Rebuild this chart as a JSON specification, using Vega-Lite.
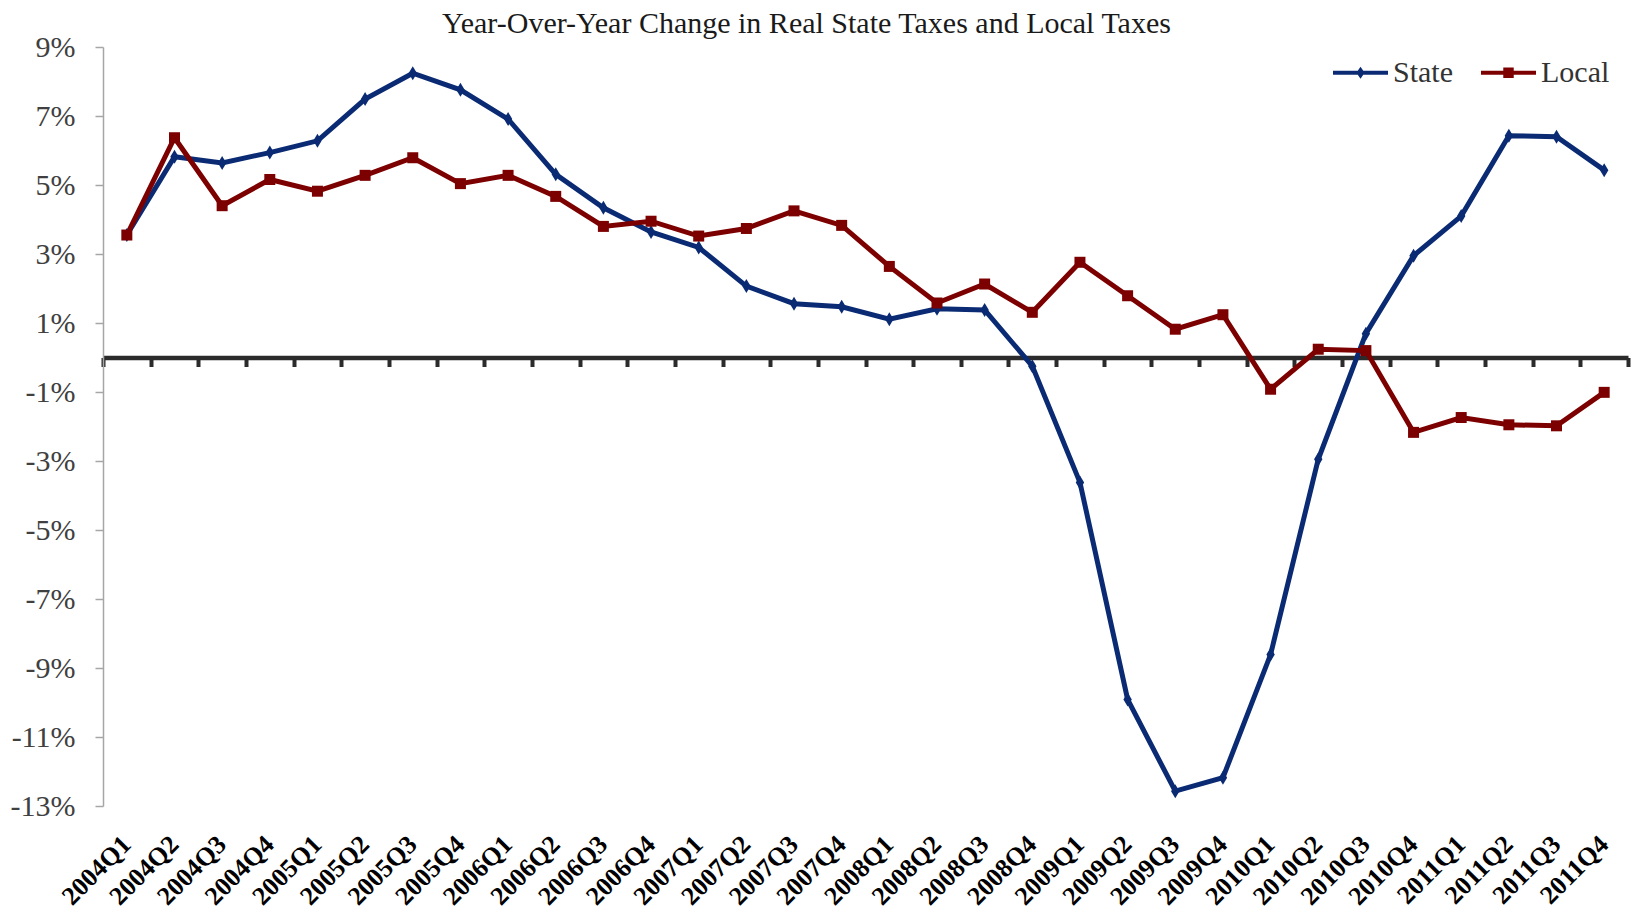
{
  "$schema": "https://vega.github.io/schema/vega-lite/v6.json",
  "width": 1525,
  "height": 759,
  "autosize": {"type": "none"},
  "padding": {"left": 103, "top": 47, "right": 8, "bottom": 110},
  "background": "white",
  "title": {
    "text": "Year-Over-Year Change in Real State Taxes and Local Taxes",
    "font": "Liberation Serif",
    "fontSize": 30,
    "fontWeight": "normal",
    "color": "#1a1a1a",
    "anchor": "middle",
    "frame": "group",
    "dx": -59,
    "dy": 33,
    "baseline": "alphabetic",
    "offset": 2
  },
  "config": {
    "view": {"stroke": null},
    "font": "Liberation Serif"
  },
  "data": {
    "values": [
      {"q": "2004Q1", "s": "State", "v": 3.55},
      {"q": "2004Q2", "s": "State", "v": 5.82},
      {"q": "2004Q3", "s": "State", "v": 5.64},
      {"q": "2004Q4", "s": "State", "v": 5.94},
      {"q": "2005Q1", "s": "State", "v": 6.28},
      {"q": "2005Q2", "s": "State", "v": 7.49},
      {"q": "2005Q3", "s": "State", "v": 8.24},
      {"q": "2005Q4", "s": "State", "v": 7.76},
      {"q": "2006Q1", "s": "State", "v": 6.91},
      {"q": "2006Q2", "s": "State", "v": 5.31},
      {"q": "2006Q3", "s": "State", "v": 4.34},
      {"q": "2006Q4", "s": "State", "v": 3.64},
      {"q": "2007Q1", "s": "State", "v": 3.19},
      {"q": "2007Q2", "s": "State", "v": 2.07},
      {"q": "2007Q3", "s": "State", "v": 1.56},
      {"q": "2007Q4", "s": "State", "v": 1.47},
      {"q": "2008Q1", "s": "State", "v": 1.11},
      {"q": "2008Q2", "s": "State", "v": 1.41},
      {"q": "2008Q3", "s": "State", "v": 1.38},
      {"q": "2008Q4", "s": "State", "v": -0.25},
      {"q": "2009Q1", "s": "State", "v": -3.62},
      {"q": "2009Q2", "s": "State", "v": -9.91},
      {"q": "2009Q3", "s": "State", "v": -12.57},
      {"q": "2009Q4", "s": "State", "v": -12.18},
      {"q": "2010Q1", "s": "State", "v": -8.61},
      {"q": "2010Q2", "s": "State", "v": -2.95},
      {"q": "2010Q3", "s": "State", "v": 0.69},
      {"q": "2010Q4", "s": "State", "v": 2.95},
      {"q": "2011Q1", "s": "State", "v": 4.1},
      {"q": "2011Q2", "s": "State", "v": 6.43},
      {"q": "2011Q3", "s": "State", "v": 6.4},
      {"q": "2011Q4", "s": "State", "v": 5.43},
      {"q": "2004Q1", "s": "Local", "v": 3.55},
      {"q": "2004Q2", "s": "Local", "v": 6.37},
      {"q": "2004Q3", "s": "Local", "v": 4.4},
      {"q": "2004Q4", "s": "Local", "v": 5.16},
      {"q": "2005Q1", "s": "Local", "v": 4.82},
      {"q": "2005Q2", "s": "Local", "v": 5.28},
      {"q": "2005Q3", "s": "Local", "v": 5.79},
      {"q": "2005Q4", "s": "Local", "v": 5.04},
      {"q": "2006Q1", "s": "Local", "v": 5.28},
      {"q": "2006Q2", "s": "Local", "v": 4.67},
      {"q": "2006Q3", "s": "Local", "v": 3.8},
      {"q": "2006Q4", "s": "Local", "v": 3.95},
      {"q": "2007Q1", "s": "Local", "v": 3.52},
      {"q": "2007Q2", "s": "Local", "v": 3.74},
      {"q": "2007Q3", "s": "Local", "v": 4.25},
      {"q": "2007Q4", "s": "Local", "v": 3.83},
      {"q": "2008Q1", "s": "Local", "v": 2.64},
      {"q": "2008Q2", "s": "Local", "v": 1.58},
      {"q": "2008Q3", "s": "Local", "v": 2.13},
      {"q": "2008Q4", "s": "Local", "v": 1.31},
      {"q": "2009Q1", "s": "Local", "v": 2.76},
      {"q": "2009Q2", "s": "Local", "v": 1.79},
      {"q": "2009Q3", "s": "Local", "v": 0.82},
      {"q": "2009Q4", "s": "Local", "v": 1.24},
      {"q": "2010Q1", "s": "Local", "v": -0.92},
      {"q": "2010Q2", "s": "Local", "v": 0.24},
      {"q": "2010Q3", "s": "Local", "v": 0.2},
      {"q": "2010Q4", "s": "Local", "v": -2.17},
      {"q": "2011Q1", "s": "Local", "v": -1.74},
      {"q": "2011Q2", "s": "Local", "v": -1.95},
      {"q": "2011Q3", "s": "Local", "v": -1.98},
      {"q": "2011Q4", "s": "Local", "v": -1.01}
    ]
  },
  "encoding": {
    "y": {
      "field": "v",
      "type": "quantitative",
      "scale": {"domain": [-13, 9], "nice": false, "zero": false},
      "axis": {
        "title": null,
        "values": [-13, -11, -9, -7, -5, -3, -1, 1, 3, 5, 7, 9],
        "labelExpr": "datum.value + '%'",
        "grid": false,
        "domainColor": "#a6a6a6",
        "domainWidth": 1.5,
        "tickColor": "#a6a6a6",
        "tickWidth": 1.5,
        "tickSize": 8,
        "labelFont": "Liberation Serif",
        "labelFontSize": 30,
        "labelColor": "#404040",
        "labelPadding": 20
      }
    },
    "color": {
      "field": "s",
      "type": "nominal",
      "sort": ["State", "Local"],
      "scale": {"domain": ["State", "Local"], "range": ["#0a2b73", "#7d0000"]},
      "legend": {
        "title": null,
        "orient": "none",
        "direction": "horizontal",
        "legendX": 1230,
        "legendY": -2,
        "padding": 0,
        "labelFont": "Liberation Serif",
        "labelFontSize": 30,
        "labelColor": "#333333",
        "labelOffset": 5,
        "columnPadding": 28,
        "symbolSize": 3025,
        "symbolStrokeWidth": 0,
        "symbolOpacity": 1,
        "encode": {
          "symbols": {
            "update": {
              "shape": {"signal": "datum.value === 'State' ? 'M-1,-0.075H1V0.075H-1Z M0,-0.22L0.15,0L0,0.22L-0.15,0Z' : 'M-1,-0.075H1V0.075H-1Z M-0.19,-0.19H0.19V0.19H-0.19Z'"},
              "fill": {"signal": "datum.value === 'State' ? '#0a2b73' : '#7d0000'"},
              "stroke": {"value": "transparent"},
              "strokeWidth": {"value": 0},
              "opacity": {"value": 1}
            }
          }
        }
      }
    }
  },
  "layer": [
    {
      "mark": {"type": "line", "strokeWidth": 5},
      "encoding": {
        "x": {
          "field": "q",
          "type": "ordinal",
          "sort": null,
          "bandPosition": 0.5,
          "scale": {"type": "band", "paddingInner": 0, "paddingOuter": 0},
          "axis": {
            "title": null,
            "orient": "bottom",
            "domain": false,
            "ticks": false,
            "tickSize": 0,
            "labelAngle": -45,
            "labelAlign": "right",
            "labelBaseline": "middle",
            "labelPadding": 34,
            "labelFont": "Liberation Serif",
            "labelFontWeight": "bold",
            "labelFontSize": 26,
            "labelColor": "#000000",
            "labelOverlap": false,
            "labelBound": false
          }
        }
      }
    },
    {
      "transform": [{"filter": "datum.s === 'State'"}],
      "mark": {"type": "point", "filled": true, "opacity": 1, "size": 196, "shape": "M0,-1L0.6,0L0,1L-0.6,0Z"},
      "encoding": {
        "x": {
          "field": "q",
          "type": "ordinal",
          "sort": null,
          "bandPosition": 0.5,
          "scale": {"type": "band", "paddingInner": 0, "paddingOuter": 0},
          "axis": {
            "title": null,
            "orient": "bottom",
            "offset": -448.5,
            "labels": false,
            "domain": true,
            "domainColor": "#2b2b2b",
            "domainWidth": 4.5,
            "ticks": true,
            "tickBand": "extent",
            "tickColor": "#2b2b2b",
            "tickWidth": 4,
            "tickSize": 9
          }
        }
      }
    },
    {
      "transform": [{"filter": "datum.s === 'Local'"}],
      "mark": {"type": "point", "filled": true, "opacity": 1, "size": 121, "shape": "square"},
      "encoding": {
        "x": {
          "field": "q",
          "type": "ordinal",
          "sort": null,
          "bandPosition": 0.5,
          "scale": {"type": "band", "paddingInner": 0, "paddingOuter": 0},
          "axis": null
        }
      }
    }
  ],
  "resolve": {"axis": {"x": "independent"}}
}
